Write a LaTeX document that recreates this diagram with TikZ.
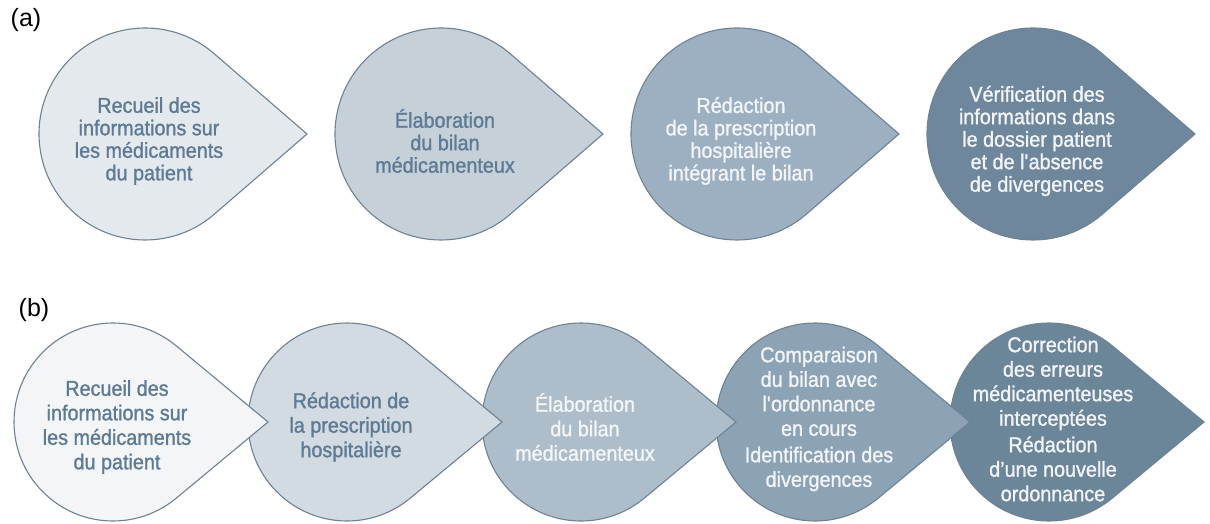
\documentclass[tikz,border=0pt]{standalone}
\usepackage{fontspec}
\setmainfont{Liberation Sans}
\newfontfamily\etapefont{Liberation Sans}[FakeBold=1.2, FakeStretch=0.92]
\usetikzlibrary{calc}

\definecolor{bord}{HTML}{6F8294}
\definecolor{txtfonce}{HTML}{5E7A94}
\definecolor{txtclair}{HTML}{F2F4F6}
% ligne (a)
\definecolor{fa1}{HTML}{E4E9ED}
\definecolor{fa2}{HTML}{C6D0D9}
\definecolor{fa3}{HTML}{9DB0C1}
\definecolor{fa4}{HTML}{6E879C}
% ligne (b)
\definecolor{fb1}{HTML}{F3F5F7}
\definecolor{fb2}{HTML}{D2DAE2}
\definecolor{fb3}{HTML}{AEBDCA}
\definecolor{fb4}{HTML}{8CA2B5}
\definecolor{fb5}{HTML}{6B8599}

\tikzset{
  goutte/.style={draw=bord, line width=1.1pt, line join=miter},
  etape/.style={align=center, inner sep=0pt, font=\etapefont\fontsize{21.5}{22.5}\selectfont},
  etapeb/.style={etape, font=\etapefont\fontsize{21.5}{24.5}\selectfont},
  panneau/.style={inner sep=0pt, font=\fontsize{25}{28}\selectfont},
}

% goutte : centre, rayon, distance de la pointe, couleur
\newcommand{\goutte}[4]{%
  \pgfmathsetmacro{\ang}{acos(#2/#3)}
  \draw[goutte, fill=#4] ($#1+(#3,0)$) -- ($#1+(\ang:#2)$)
    arc[start angle=\ang, end angle=360-\ang, radius=#2] -- cycle;
}

\begin{document}
\begin{tikzpicture}[x=1pt,y=1pt]
  \fill[white] (0,0) rectangle (1210,523);
  \useasboundingbox (0,0) rectangle (1210,523);

  \node[panneau] (lab-a) at (26,503) {(a)};
  \node[panneau] (lab-b) at (34,213) {(b)};

  % ligne (a)
  \foreach \n/\x/\c in {a1/145/fa1, a2/441/fa2, a3/737/fa3, a4/1033/fa4}{
    \coordinate (c-\n) at (\x,389);
    \goutte{(c-\n)}{106}{162}{\c}
  }
  \node[etape, text=txtfonce] (a1) at ($(c-a1)+(4,-7)$)
    {Recueil des\\informations sur\\les médicaments\\du patient};
  \node[etape, text=txtfonce] (a2) at ($(c-a2)+(4,-7)$)
    {Élaboration\\du bilan\\médicamenteux};
  \node[etape, text=txtclair] (a3) at ($(c-a3)+(4,-7)$)
    {Rédaction\\de la prescription\\hospitalière\\intégrant le bilan};
  \node[etape, text=txtclair] (a4) at ($(c-a4)+(4,-7)$)
    {Vérification des\\informations dans\\le dossier patient\\et de l\textquotesingle absence\\de divergences};

  % ligne (b) : de droite a gauche, la premiere goutte passe dessus
  \foreach \n/\x/\c in {b5/1049/fb5, b4/815/fb4, b3/581/fb3, b2/347/fb2, b1/113/fb1}{
    \coordinate (c-\n) at (\x,101);
    \goutte{(c-\n)}{99}{155}{\c}
  }
  \node[etapeb, text=txtfonce] (b1) at ($(c-b1)+(4,-5)$)
    {Recueil des\\informations sur\\les médicaments\\du patient};
  \node[etapeb, text=txtfonce] (b2) at ($(c-b2)+(4,-5)$)
    {Rédaction de\\la prescription\\hospitalière};
  \node[etapeb, text=fb1] (b3) at ($(c-b3)+(4,-5)$)
    {Élaboration\\du bilan\\médicamenteux};
  \node[etapeb, text=txtclair] (b4) at ($(c-b4)+(4,3)$)
    {Comparaison\\du bilan avec\\l\textquotesingle ordonnance\\en cours\\[2pt]Identification des\\divergences};
  \node[etapeb, text=txtclair] (b5) at ($(c-b5)+(4,3)$)
    {Correction\\des erreurs\\médicamenteuses\\interceptées\\[2pt]Rédaction\\d’une nouvelle\\ordonnance};
\end{tikzpicture}
\end{document}
